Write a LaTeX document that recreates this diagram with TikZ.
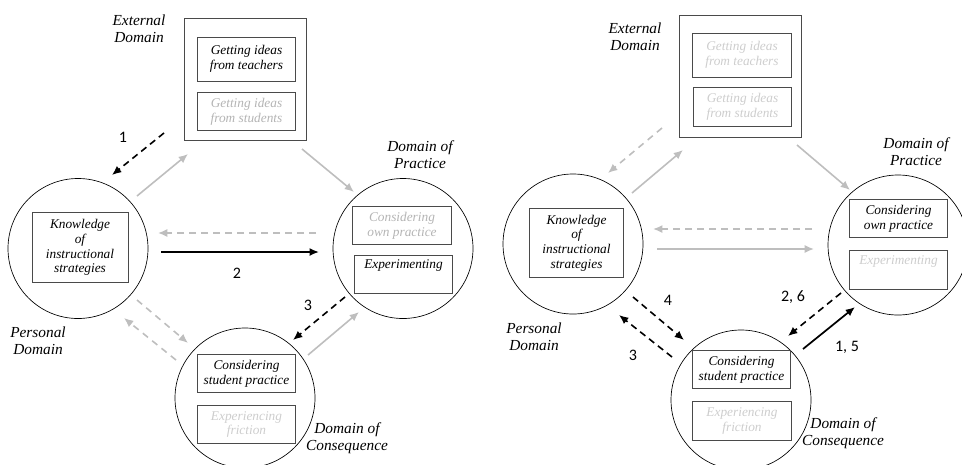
\documentclass[tikz,border=0pt]{standalone}
\usepackage{fontspec}
\setmainfont{Liberation Serif}
\newfontfamily\serfont{Liberation Serif}
\newfontfamily\numfont{Carlito}
\usetikzlibrary{arrows.meta}
\definecolor{arrowgr}{HTML}{BEBEBE}
\definecolor{fadetxt}{HTML}{B4B4B4}
\definecolor{fadertxt}{HTML}{CDCDCD}
\definecolor{boxline}{HTML}{4A4A4A}
\begin{document}
\begin{tikzpicture}
	[x=0.75pt,y=-0.75pt,
	dcircle/.style={circle,draw,line width=0.5pt,minimum size=105pt,inner sep=0pt},
	box/.style={draw=boxline,line width=0.7pt,minimum width=74pt,minimum height=29pt,inner sep=1pt,align=center,font=\serfont\itshape\fontsize{10}{11}\selectfont},
	outerbox/.style={draw=boxline,line width=0.7pt,minimum size=92pt,inner sep=0pt},
	domlab/.style={align=center,font=\serfont\itshape\fontsize{11.5}{13}\selectfont},
	num/.style={font=\numfont\fontsize{12}{14}\selectfont},
	garrow/.style={->,draw=arrowgr,line width=1.2pt},
	gdashed/.style={garrow,dash pattern=on 5pt off 4pt},
	barrow/.style={->,line width=1.3pt},
	bdashed/.style={->,line width=1.2pt,dash pattern=on 5pt off 3.5pt},
	>={Latex[length=7pt,width=6pt]}]
	\useasboundingbox (0,0) rectangle (962,464);
	% left model
	\node[outerbox,name=extL]at(245.5,79.5){};
	\node[dcircle,name=persL]at(78,248.5){};
	\node[dcircle,name=pracL]at(403,248.5){};
	\node[dcircle,name=consL]at(245,398){};
	\node[box,name=tL,minimum height=33pt]at(246.5,59){Getting ideas\\from teachers};
	\node[box,name=sL,text=fadetxt]at(246.5,111.5){Getting ideas\\from students};
	\node[box,name=kL,minimum width=72pt,minimum height=53pt]at(80,247.5){Knowledge\\of\\instructional\\strategies};
	\node[box,name=oL,text=fadetxt]at(402,225.5){Considering\\own practice};
	\node[box,name=eL]at(403.5,274.5){Experimenting\\[4pt]};
	\node[box,name=cL]at(246.5,373.5){Considering\\student practice};
	\node[box,name=fL,text=fadertxt]at(246.5,424.5){Experiencing\\friction};
	\node[domlab,name=extLlab]at(139,29){External\\Domain};
	\node[domlab,name=pracLlab]at(420,155){Domain of\\Practice};
	\node[domlab,name=persLlab]at(38,341){Personal\\Domain};
	\node[domlab,name=consLlab]at(347,438){Domain of\\Consequence};
	\coordinate (l1s) at (164,133); \coordinate (l1e) at (112,175);
	\coordinate (l2s) at (137,196); \coordinate (l2e) at (188,154);
	\coordinate (l3s) at (302,149); \coordinate (l3e) at (354,192);
	\coordinate (l4s) at (316,233); \coordinate (l4e) at (158,233);
	\coordinate (l5s) at (161,252); \coordinate (l5e) at (319,252);
	\coordinate (l6s) at (345,297); \coordinate (l6e) at (293,340);
	\coordinate (l7s) at (308,355); \coordinate (l7e) at (359,312);
	\coordinate (l8s) at (137,300); \coordinate (l8e) at (188,343);
	\coordinate (l9s) at (176,360); \coordinate (l9e) at (124,318);
	\draw[bdashed] (l1s)--(l1e);
	\draw[garrow] (l2s)--(l2e);
	\draw[garrow] (l3s)--(l3e);
	\draw[gdashed] (l4s)--(l4e);
	\draw[barrow] (l5s)--(l5e);
	\draw[bdashed] (l6s)--(l6e);
	\draw[garrow] (l7s)--(l7e);
	\draw[gdashed] (l8s)--(l8e);
	\draw[gdashed] (l9s)--(l9e);
	\node[num,name=n1L]at(123,137){1};
	\node[num,name=n2L]at(237,273){2};
	\node[num,name=n3L]at(308,305){3};
	% right model
	\node[outerbox,name=extR]at(740.5,76.5){};
	\node[dcircle,name=persR]at(573,244){};
	\node[dcircle,name=pracR]at(898,245){};
	\node[dcircle,name=consR]at(741,400){};
	\node[box,name=tR,text=fadertxt,minimum height=33pt]at(742,55){Getting ideas\\from teachers};
	\node[box,name=sR,text=fadertxt]at(742.5,107){Getting ideas\\from students};
	\node[box,name=kR,minimum width=71pt,minimum height=52pt]at(576.5,243){Knowledge\\of\\instructional\\strategies};
	\node[box,name=oR]at(898.5,218.5){Considering\\own practice};
	\node[box,name=eR,text=fadertxt]at(898.5,270){Experimenting\\[4pt]};
	\node[box,name=cR]at(741.5,369.5){Considering\\student practice};
	\node[box,name=fR,text=fadertxt]at(742,421){Experiencing\\friction};
	\node[domlab,name=extRlab]at(635,37){External\\Domain};
	\node[domlab,name=pracRlab]at(916,152){Domain of\\Practice};
	\node[domlab,name=persRlab]at(534,337){Personal\\Domain};
	\node[domlab,name=consRlab]at(843,433){Domain of\\Consequence};
	\coordinate (r1s) at (662,128); \coordinate (r1e) at (608,173);
	\coordinate (r2s) at (632,193); \coordinate (r2e) at (683,150);
	\coordinate (r3s) at (797,145); \coordinate (r3e) at (850,190);
	\coordinate (r4s) at (812,229); \coordinate (r4e) at (653,229);
	\coordinate (r5s) at (657,249); \coordinate (r5e) at (814,249);
	\coordinate (r6s) at (633,297); \coordinate (r6e) at (684,340);
	\coordinate (r7s) at (672,357); \coordinate (r7e) at (619,315);
	\coordinate (r8s) at (841,293); \coordinate (r8e) at (788,336);
	\coordinate (r9s) at (803,349); \coordinate (r9e) at (855,307);
	\draw[gdashed] (r1s)--(r1e);
	\draw[garrow] (r2s)--(r2e);
	\draw[garrow] (r3s)--(r3e);
	\draw[gdashed] (r4s)--(r4e);
	\draw[garrow] (r5s)--(r5e);
	\draw[bdashed] (r6s)--(r6e);
	\draw[bdashed] (r7s)--(r7e);
	\draw[bdashed] (r8s)--(r8e);
	\draw[barrow] (r9s)--(r9e);
	\node[num,name=n4R]at(668,300){4};
	\node[num,name=n3R]at(633,355){3};
	\node[num,name=n26R]at(793,297){2, 6};
	\node[num,name=n15R]at(847,347){1, 5};
\end{tikzpicture}
\end{document}
